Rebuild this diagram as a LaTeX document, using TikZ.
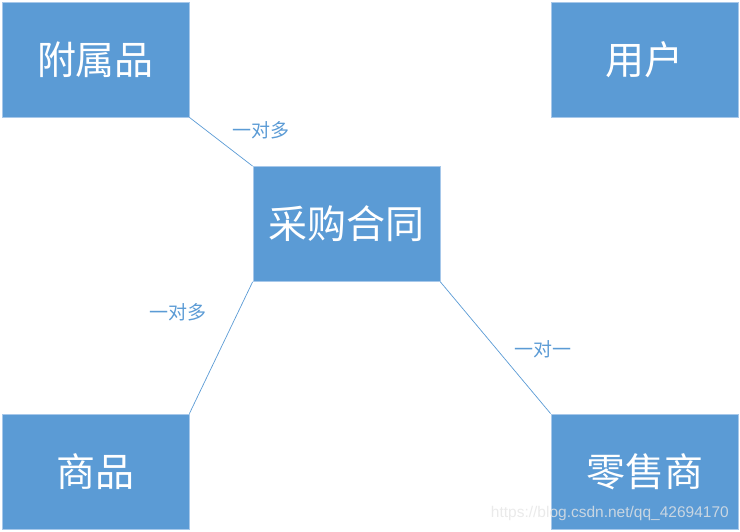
\documentclass[tikz,border=0pt]{standalone}
\usepackage{fontspec}
\newfontfamily\cjk{Noto Sans CJK SC}
\setsansfont{Liberation Sans}
\definecolor{boxfill}{HTML}{5B9BD5}
\definecolor{boxline}{HTML}{A7C8EA}
\definecolor{linkc}{HTML}{5B9BD5}
\begin{document}
\begin{tikzpicture}[x=1pt,y=-1pt,
  ent/.style={draw=boxline,line width=0.8pt,fill=boxfill,minimum width=187pt,minimum height=115pt,inner sep=0pt,text=white,font=\cjk\fontsize{39}{44}\selectfont},
  rel/.style={linkc,line width=0.7pt},
  lab/.style={text=linkc,font=\cjk\fontsize{19}{22}\selectfont,inner sep=0pt}]
\useasboundingbox (0,0) rectangle (740,532);
\node[ent] (fsp) at (95.5,59.5) {附属品};
\node[ent] (yh) at (644.5,59.5) {用户};
\node[ent] (cg) at (346.5,224) {采购合同};
\node[ent] (sp) at (95.5,471.5) {商品};
\node[ent] (lss) at (644.5,471.5) {零售商};
\draw[rel] (fsp.south east) -- (cg.north west);
\draw[rel] (cg.south west) -- (sp.north east);
\draw[rel] (cg.south east) -- (lss.north west);
\node[lab] (l1) at (261,130) {一对多};
\node[lab] (l2) at (178,312) {一对多};
\node[lab] (l3) at (543,349) {一对一};
\node[text=white!80!gray,opacity=0.8,font=\sffamily\fontsize{15.5}{18}\selectfont,inner sep=0pt,anchor=east] (wm) at (729,513) {https://blog.csdn.net/qq\_42694170};
\end{tikzpicture}
\end{document}
